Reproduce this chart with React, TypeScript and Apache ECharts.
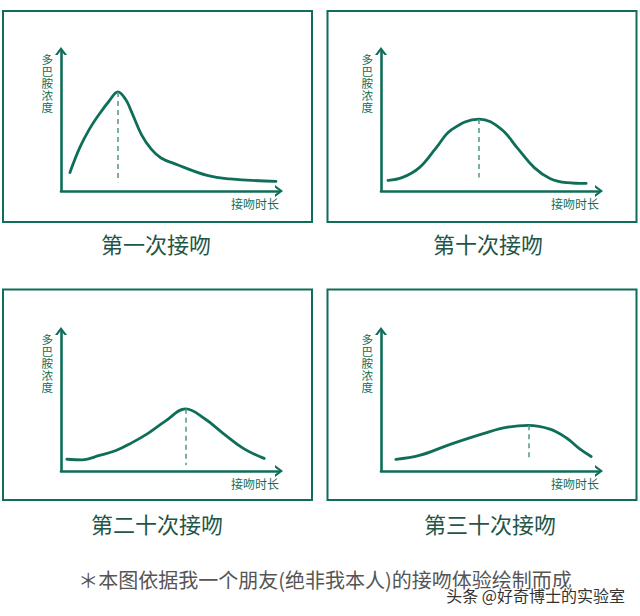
import React, { useEffect, useRef } from "react";
import * as echarts from "echarts";

// ---- data (x: share of kiss duration axis 0-100, y: dopamine 0-100) ----
const panelTitles = ["第一次接吻", "第十次接吻", "第二十次接吻", "第三十次接吻"];
const yAxisName = "多巴胺浓度";
const xAxisName = "接吻时长";

const curve1: number[][] = [
  [4.1, 13.2], [8.6, 31.0], [13.1, 44.4], [17.6, 55.0], [22.1, 64.3], [26.1, 70.8],
  [29.7, 65.3], [32.4, 56.3], [36.9, 40.3], [41.4, 29.9], [45.9, 23.6], [52.3, 19.4],
  [67.1, 11.1], [77.5, 8.6], [98.6, 6.9],
];
const curve2: number[][] = [
  [3.2, 7.6], [9.9, 9.7], [17.6, 16.7], [25.2, 30.6], [32.4, 43.8], [45.0, 51.4],
  [55.0, 44.4], [62.6, 30.6], [70.3, 16.7], [77.5, 9.0], [85.1, 6.0], [94.1, 5.4],
];
const curve3: number[][] = [
  [2.7, 8.4], [9.9, 8.0], [17.6, 11.1], [25.2, 14.6], [32.4, 20.1], [40.1, 27.1],
  [47.7, 35.4], [57.2, 44.4], [65.8, 37.5], [74.8, 26.4], [83.8, 16.0], [93.2, 9.0],
];
const curve4: number[][] = [
  [6.8, 8.3], [17.6, 11.1], [32.4, 19.4], [47.7, 27.1], [58.1, 31.3], [67.6, 32.6],
  [77.5, 29.9], [85.1, 23.6], [91.0, 16.0], [96.4, 10.4],
];
const curves = [curve1, curve2, curve3, curve4];
// peak [x, y] and lower end of the dashed guide
const peaks: number[][] = [[26.1, 70.8], [45.0, 51.4], [57.2, 44.4], [67.6, 32.6]];
const dashEnds = [6.3, 9.7, 4.2, 7.6];

const footnote = "＊本图依据我一个朋友(绝非我本人)的接吻体验绘制而成";
const watermark = "头条 @好奇博士的实验室";

// ---- styles ----
const GREEN = "#0f6e59";
const DASH = "#4f9886";
const TITLE = "#1f5648";
const FONT = "'Noto Sans CJK SC', 'Noto Sans', sans-serif";
const ARROW = "path://M0,8 L6,0 L12,8 L9.4,8 L6,3.4 L2.6,8 Z";

const gridPos = [
  { left: 61, top: 51 },
  { left: 381, top: 51 },
  { left: 61, top: 331 },
  { left: 381, top: 331 },
];
const borders = [
  { x: 3, y: 11, w: 309, h: 211 },
  { x: 327.5, y: 11, w: 309, h: 211 },
  { x: 3, y: 289.5, w: 309, h: 210.5 },
  { x: 327.5, y: 289.5, w: 309, h: 210.5 },
];
const titlePos = [
  [156, 243],
  [488, 243],
  [157, 523],
  [490, 523],
];

export default function App() {
  const ref = useRef<HTMLDivElement>(null);
  useEffect(() => {
    if (!ref.current) return;
    const chart = echarts.init(ref.current, null, { renderer: "svg" });
    const grids = gridPos.map((g) => ({ left: g.left, top: g.top, width: 218, height: 140 }));
    const axisLine = {
      show: true,
      symbol: ["none", ARROW],
      symbolSize: [12, 8],
      lineStyle: { color: GREEN, width: 2.6, cap: "round" },
    };
    const xAxes = grids.map((_, i) => ({
      type: "value",
      gridIndex: i,
      min: 0,
      max: 100,
      axisLine,
      axisTick: { show: false },
      axisLabel: { show: false },
      splitLine: { show: false },
      name: xAxisName,
      nameLocation: "end",
      nameGap: 0,
      nameTextStyle: {
        color: GREEN,
        fontSize: 12,
        fontFamily: FONT,
        align: "right",
        verticalAlign: "top",
        padding: [6, 0, 0, 0],
      },
    }));
    const yAxes = grids.map((_, i) => ({
      type: "value",
      gridIndex: i,
      min: 0,
      max: 100,
      axisLine,
      axisTick: { show: false },
      axisLabel: { show: false },
      splitLine: { show: false },
      name: yAxisName.split("").join("\n"),
      nameLocation: "end",
      nameGap: -2,
      nameTextStyle: {
        color: GREEN,
        fontSize: 11.5,
        lineHeight: 12,
        fontFamily: FONT,
        align: "right",
        verticalAlign: "top",
        padding: [0, 8, 0, 0],
      },
    }));
    const series = curves.map((c, i) => ({
      type: "line",
      xAxisIndex: i,
      yAxisIndex: i,
      data: c,
      smooth: 0.4,
      showSymbol: false,
      clip: false,
      silent: true,
      lineStyle: { color: GREEN, width: 2.8, cap: "round" },
      markLine: {
        silent: true,
        symbol: ["none", "none"],
        label: { show: false },
        lineStyle: { color: DASH, width: 1.5, type: [5, 4] },
        data: [[{ coord: [peaks[i][0], peaks[i][1]] }, { coord: [peaks[i][0], dashEnds[i]] }]],
      },
    }));
    const graphics: any[] = [];
    borders.forEach((b) => {
      graphics.push({
        type: "rect",
        shape: { x: b.x, y: b.y, width: b.w, height: b.h },
        style: { fill: "none", stroke: GREEN, lineWidth: 2 },
        silent: true,
      });
    });
    panelTitles.forEach((t, i) => {
      graphics.push({
        type: "text",
        x: titlePos[i][0],
        y: titlePos[i][1],
        style: {
          text: t,
          fill: TITLE,
          font: `normal 22px ${FONT}`,
          align: "center",
          verticalAlign: "middle",
        },
      });
    });
    graphics.push({
      type: "text",
      x: 325,
      y: 579,
      style: {
        text: footnote,
        fill: "#555555",
        font: `20px ${FONT}`,
        align: "center",
        verticalAlign: "middle",
      },
    });
    graphics.push({
      type: "text",
      x: 625,
      y: 595,
      style: {
        text: watermark,
        fill: "#333333",
        font: `16px ${FONT}`,
        align: "right",
        verticalAlign: "middle",
        stroke: "#ffffff",
        lineWidth: 2,
      },
    });
    chart.setOption({
      animation: false,
      backgroundColor: "#ffffff",
      grid: grids,
      xAxis: xAxes,
      yAxis: yAxes,
      series,
      graphic: graphics,
    } as any);
    return () => chart.dispose();
  }, []);
  return (
    <div
      ref={ref}
      style={{ position: "fixed", left: 0, top: 0, width: 640, height: 616 }}
    />
  );
}
